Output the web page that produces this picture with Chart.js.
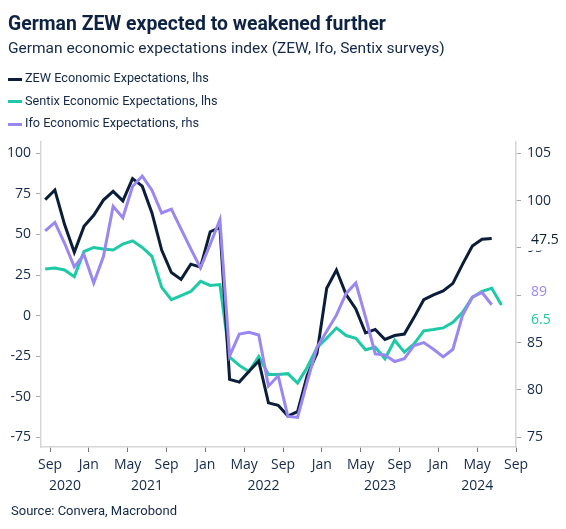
<!DOCTYPE html>
<html>
<head>
<meta charset="utf-8">
<script src="https://cdn.jsdelivr.net/npm/chart.js@4.4.1/dist/chart.umd.min.js"></script>
<style>
  html, body { margin: 0; padding: 0; background: #fff; }
  #wrap { position: relative; width: 566px; height: 529px; overflow: hidden; font-family: Roboto, "Open Sans", sans-serif; color: #14284b; }
  #chart { position: absolute; left: 0; top: 0; }
  .t { position: absolute; white-space: nowrap; line-height: 1; }
  #title { left: 8px; top: 13.7px; font-size: 19.4px; font-weight: 700; color: #0e2343; }
  #subtitle { left: 8px; top: 41px; font-size: 15.5px; }
  .leg { left: 25px; font-size: 12.7px; }
  .sw { position: absolute; left: 8px; width: 14px; height: 3px; }
  #source { left: 11px; top: 504px; font-size: 13px; }
</style>
</head>
<body>
<div id="wrap">
  <canvas id="chart" width="566" height="529"></canvas>
  <div class="t" id="title">German ZEW expected to weakened further</div>
  <div class="t" id="subtitle">German economic expectations index (ZEW, Ifo, Sentix surveys)</div>
  <div class="sw" style="top:78px;background:#0a1e3a"></div>
  <div class="t leg" style="top:72px">ZEW Economic Expectations, lhs</div>
  <div class="sw" style="top:100px;background:#1ec9a6"></div>
  <div class="t leg" style="top:94.5px">Sentix Economic Expectations, lhs</div>
  <div class="sw" style="top:123px;background:#9b87f2"></div>
  <div class="t leg" style="top:117px">Ifo Economic Expectations, rhs</div>
  <div class="t" id="source">Source: Convera, Macrobond</div>
</div>
<script>
var months = [
    '2020-08', '2020-09', '2020-10', '2020-11', '2020-12',
    '2021-01', '2021-02', '2021-03', '2021-04', '2021-05', '2021-06',
    '2021-07', '2021-08', '2021-09', '2021-10', '2021-11', '2021-12',
    '2022-01', '2022-02', '2022-03', '2022-04', '2022-05', '2022-06',
    '2022-07', '2022-08', '2022-09', '2022-10', '2022-11', '2022-12',
    '2023-01', '2023-02', '2023-03', '2023-04', '2023-05', '2023-06',
    '2023-07', '2023-08', '2023-09', '2023-10', '2023-11', '2023-12',
    '2024-01', '2024-02', '2024-03', '2024-04', '2024-05', '2024-06',
    '2024-07'
];

// ZEW, Aug 2020 - Jun 2024 (lhs)
var zewValues = [
    71.5, 77.4, 56.1, 39.0, 55.0,
    61.8, 71.2, 76.6, 70.7, 84.4, 79.8, 63.3, 40.4, 26.5, 22.3, 31.7, 29.9,
    51.7, 54.3, -39.3, -41.0, -34.3, -28.0, -53.8, -55.3, -61.9, -59.2, -36.7, -23.3,
    16.9, 28.1, 13.0, 4.1, -10.7, -8.5, -14.7, -12.3, -11.4, -1.1, 9.8, 12.8,
    15.2, 19.9, 31.7, 42.9, 47.1, 47.5
];

// Sentix, Aug 2020 - Jul 2024 (lhs)
var sentixValues = [
    28.7, 29.3, 28.1, 24.0, 39.5,
    42.0, 41.0, 40.4, 44.1, 46.1, 42.0, 36.5, 17.4, 9.8, 12.3, 14.9, 21.1,
    18.6, 19.1, -25.6, -30.7, -34.5, -25.2, -36.3, -36.3, -35.8, -41.6, -31.8, -19.8,
    -14.0, -7.6, -12.3, -14.0, -21.1, -19.5, -26.6, -15.2, -22.5, -17.4, -9.4, -8.6,
    -7.6, -4.1, 2.0, 11.3, 14.9, 16.8, 6.5
];

// Ifo expectations, Aug 2020 - Jun 2024 (rhs)
var ifoValues = [
    96.8, 97.7, 95.5, 93.0, 94.3,
    91.3, 94.1, 99.4, 98.2, 101.5, 102.6, 101.1, 98.7, 99.1, 97.0, 94.9, 92.9,
    95.4, 98.0, 83.6, 85.9, 86.1, 85.8, 80.4, 81.5, 77.2, 77.1, 80.9, 84.5,
    86.2, 87.9, 90.2, 91.3, 87.7, 83.8, 83.7, 83.0, 83.3, 84.7, 85.0, 84.3,
    83.5, 84.3, 87.9, 89.8, 90.3, 89.0
];

var xTickLabels = ['Sep', 'Jan', 'May', 'Sep', 'Jan', 'May', 'Sep', 'Jan', 'May', 'Sep', 'Jan', 'May', 'Sep'];
var yearLabels = ['2020', '2021', '2022', '2023', '2024'];
var leftTicks = [-75, -50, -25, 0, 25, 50, 75, 100];
var rightTicks = [75, 80, 85, 90, 95, 100, 105];

var colZew = '#0a1e3a';
var colSentix = '#1ec9a6';
var colIfo = '#9b87f2';
var textCol = '#14284b';
var fontFam = '"Open Sans", "Noto Sans", sans-serif';

// months since Jan 2020, plotted mid-month
function monthPos(m) {
    var p = m.split('-');
    return (parseInt(p[0]) - 2020) * 12 + parseInt(p[1]) - 1 + 0.5;
}

function toPoints(values) {
    return values.map(function (v, i) {
        return { x: monthPos(months[i]), y: v };
    });
}

var endLabels = {
    id: 'endLabels',
    afterDraw: function (chart) {
        var ctx = chart.ctx;
        var xs = chart.scales.x;

        // year row under the month ticks
        ctx.save();
        ctx.font = '14px ' + fontFam;
        ctx.fillStyle = textCol;
        ctx.textAlign = 'center';
        ctx.textBaseline = 'middle';
        yearLabels.forEach(function (y, i) {
            var a = Math.max(xs.min, i * 12);
            var b = Math.min(xs.max, (i + 1) * 12);
            var px = (xs.getPixelForValue(a) + xs.getPixelForValue(b)) / 2;
            ctx.fillText(y, px, 486);
        });
        ctx.restore();

        // last value labels at the right
        var items = [
            { ds: 1, text: String(zewValues[zewValues.length - 1]), color: colZew, dy: 1 },
            { ds: 0, text: String(Math.round(ifoValues[ifoValues.length - 1])), color: colIfo, dy: -12.5 },
            { ds: 2, text: String(sentixValues[sentixValues.length - 1]), color: colSentix, dy: 14.5 }
        ];
        ctx.save();
        ctx.font = '14px ' + fontFam;
        ctx.textAlign = 'left';
        ctx.textBaseline = 'middle';
        items.forEach(function (it) {
            var meta = chart.getDatasetMeta(it.ds);
            var last = meta.data[meta.data.length - 1];
            var py = last.y + it.dy;
            ctx.fillStyle = '#ffffff';
            ctx.fillRect(524, py - 11, 42, 22);
            ctx.fillStyle = it.color;
            ctx.fillText(it.text, 531, py);
        });
        ctx.restore();
    }
};

var tickFont = { family: fontFam, size: 14 };

var ctx = document.getElementById('chart').getContext('2d');
var chart = new Chart(ctx, {
    type: 'line',
    data: {
        datasets: [
            {
                label: 'Ifo Economic Expectations, rhs',
                data: toPoints(ifoValues),
                borderColor: colIfo,
                borderWidth: 3,
                pointRadius: 0,
                tension: 0,
                yAxisID: 'y1'
            },
            {
                label: 'ZEW Economic Expectations, lhs',
                data: toPoints(zewValues),
                borderColor: colZew,
                borderWidth: 3,
                pointRadius: 0,
                tension: 0,
                yAxisID: 'y'
            },
            {
                label: 'Sentix Economic Expectations, lhs',
                data: toPoints(sentixValues),
                borderColor: colSentix,
                borderWidth: 3,
                pointRadius: 0,
                tension: 0,
                yAxisID: 'y'
            }
        ]
    },
    options: {
        responsive: false,
        animation: false,
        devicePixelRatio: 1,
        layout: { padding: { top: 142, left: 0, right: 0, bottom: 0 } },
        plugins: {
            legend: { display: false },
            tooltip: { enabled: false }
        },
        scales: {
            x: {
                type: 'linear',
                min: 7.07,
                max: 56,
                afterBuildTicks: function (s) {
                    s.ticks = xTickLabels.map(function (l, i) { return { value: 8 + 4 * i }; });
                },
                afterFit: function (s) { s.height = 82; },
                ticks: {
                    autoSkip: false,
                    maxRotation: 0,
                    padding: 5,
                    color: textCol,
                    font: tickFont,
                    callback: function (v, i) { return xTickLabels[i]; }
                },
                grid: { drawOnChartArea: false, tickLength: 5, color: '#777' },
                border: { color: '#d6d6d6', width: 1.5 }
            },
            y: {
                position: 'left',
                min: -81,
                max: 107,
                afterBuildTicks: function (s) {
                    s.ticks = leftTicks.map(function (v) { return { value: v }; });
                },
                afterFit: function (s) { s.width = 41; },
                ticks: { padding: 5, color: textCol, font: tickFont },
                grid: { drawOnChartArea: false, tickLength: 5, color: '#aaa' },
                border: { color: '#d6d6d6', width: 1.5 }
            },
            y1: {
                position: 'right',
                min: 73.97,
                max: 106.2,
                afterBuildTicks: function (s) {
                    s.ticks = rightTicks.map(function (v) { return { value: v }; });
                },
                afterFit: function (s) { s.width = 50; },
                ticks: { padding: 6, color: textCol, font: tickFont },
                grid: { drawOnChartArea: false, tickLength: 5, color: '#aaa' },
                border: { color: '#d6d6d6', width: 1.5 }
            }
        }
    },
    plugins: [endLabels]
});
</script>
</body>
</html>
